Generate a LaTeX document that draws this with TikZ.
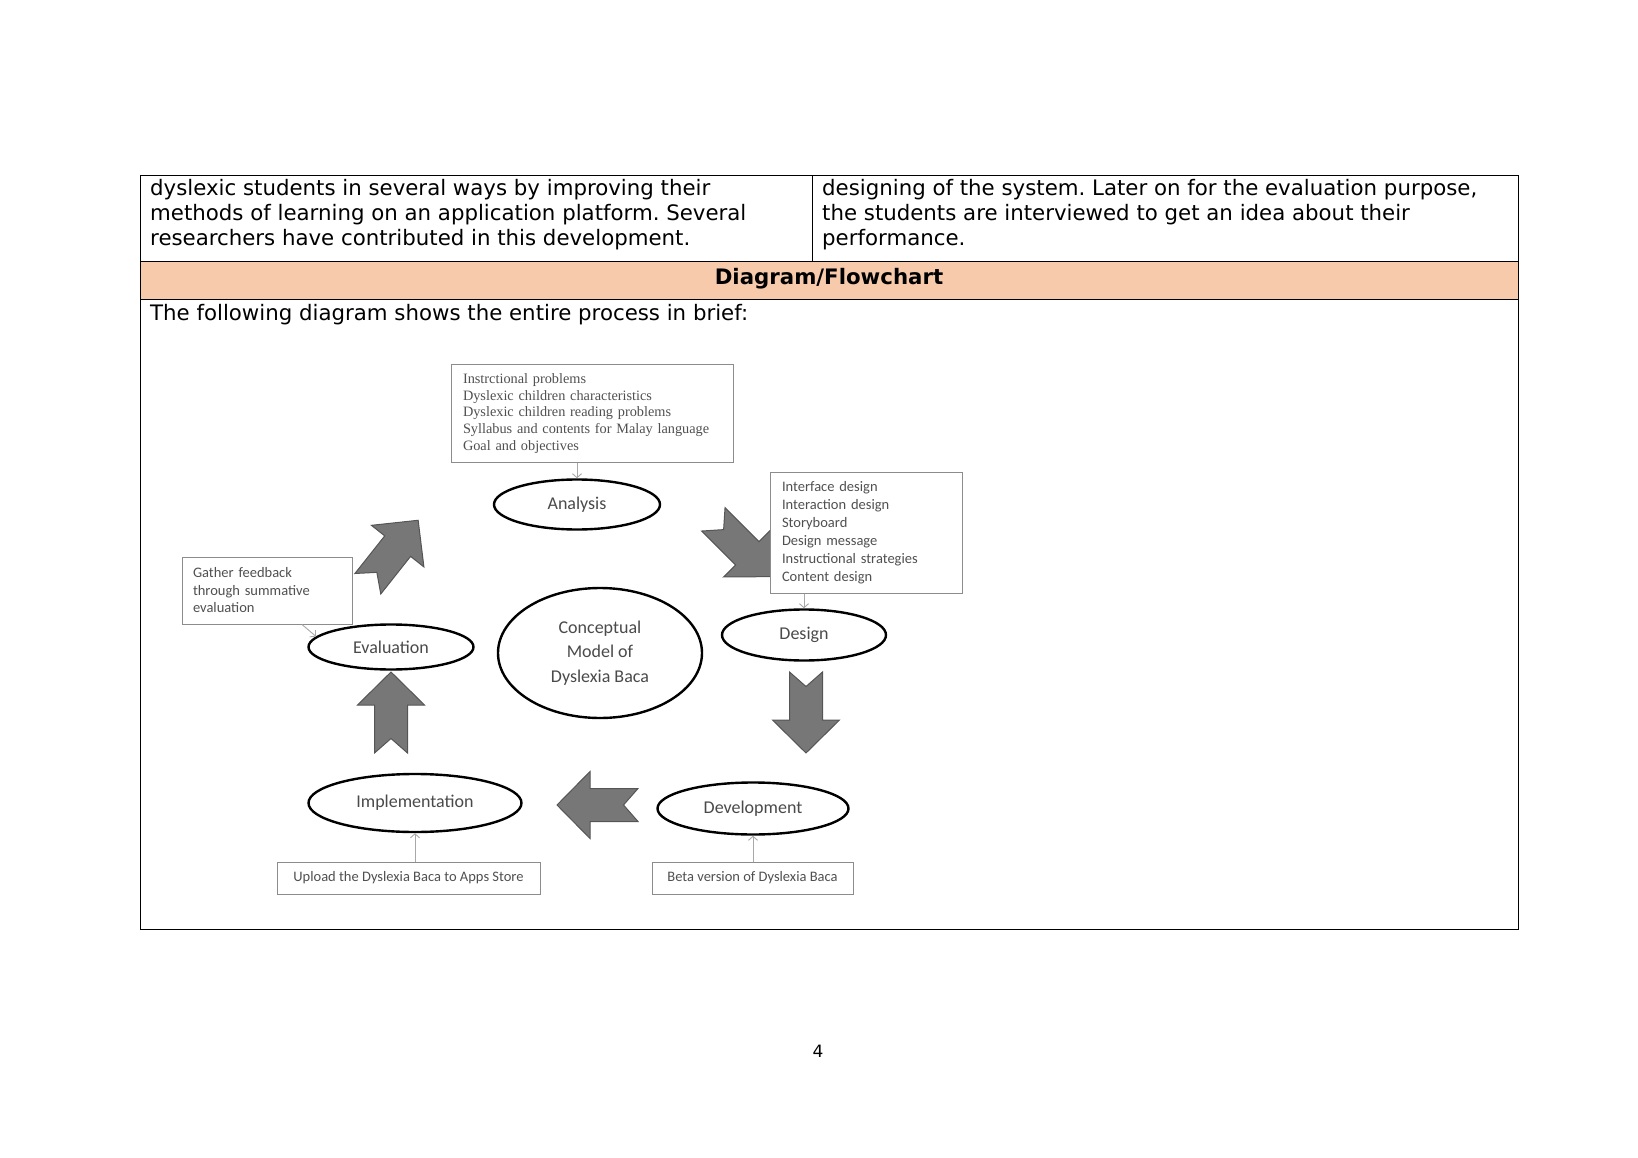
\documentclass[tikz,border=0pt]{standalone}
\usepackage{fontspec}
\setmainfont{DejaVu Sans}
\newfontfamily\calfont{Carlito}
\newfontfamily\timesfont{Liberation Serif}
\usetikzlibrary{shapes.geometric,arrows.meta}
\frenchspacing
\definecolor{hdr}{HTML}{F7CAAC}
\definecolor{arrowfill}{HTML}{777777}
\definecolor{arrowdraw}{HTML}{555555}
\definecolor{labgray}{HTML}{4A4A4A}
\definecolor{txtgray}{HTML}{505050}
\definecolor{boxgray}{HTML}{8C8C8C}
\definecolor{conngray}{HTML}{A8A8A8}
\newcommand\notcharrow[3]{%
  \draw[bigarrow, shift={(#1,#2)}, rotate=#3]
    (-40.5,-16.5) -- (7.5,-16.5) -- (7.5,-33.5) -- (40.5,0) -- (7.5,33.5)
    -- (7.5,16.5) -- (-40.5,16.5) -- (-26,0) -- cycle;}
\tikzset{
  body/.style={anchor=base west, inner sep=0pt, font=\fontsize{21.3}{25}\selectfont},
  bigarrow/.style={fill=arrowfill, draw=arrowdraw, line width=1pt, line join=miter},
  phase/.style={ellipse, draw=black, line width=2.4pt, fill=white, inner sep=0pt,
    text=labgray, align=center, font=\calfont\fontsize{18}{24.5}\selectfont},
  infobox/.style={rectangle, draw=boxgray, line width=1pt, fill=white, align=left, text=txtgray},
  conn/.style={draw=conngray, line width=0.9pt, -{Straight Barb[length=4pt,width=9pt]}},
}
\begin{document}
\begin{tikzpicture}[x=1pt,y=-1pt]
\useasboundingbox (0,0) rectangle (1638,1158);
% table
\fill[hdr] (140,262) rectangle (1518,300);
\draw[line width=1pt] (140,175.5) rectangle (1518,929);
\draw[line width=1pt] (140,262) -- (1518,262);
\draw[line width=1pt] (140,300) -- (1518,300);
\draw[line width=1pt] (812,175.5) -- (812,262);
\node[body] (l1) at (150,196) {dyslexic students in several ways by improving their};
\node[body] (l2) at (150,221) {methods of learning on an application platform. Several};
\node[body] (l3) at (150,246) {researchers have contributed in this development.};
\node[body] (r1) at (822,196) {designing of the system. Later on for the evaluation purpose,};
\node[body] (r2) at (822,221) {the students are interviewed to get an idea about their};
\node[body] (r3) at (822,246) {performance.};
\node[body, anchor=base, font=\bfseries\fontsize{21.3}{25}\selectfont] (hd) at (829,284) {Diagram/Flowchart};
\node[body] (intro) at (150,320.5) {The following diagram shows the entire process in brief:};
\node[anchor=base, inner sep=0pt, font=\fontsize{17}{20}\selectfont] (pg) at (818,1057) {4};

% big arrows
\notcharrow{393}{552}{51.6}
\notcharrow{742}{548}{-45}
\notcharrow{806}{712.5}{-90}
\notcharrow{597.5}{805}{180}
\notcharrow{391}{712.5}{90}

% boxes
\node[infobox, minimum width=282, minimum height=98, text width=258, inner xsep=12,
  font=\timesfont\fontsize{14.3}{16.6}\selectfont] (abox) at (592,413.5)
  {Instrctional problems\\Dyslexic children characteristics\\Dyslexic children reading problems\\Syllabus and contents for Malay language\\Goal and objectives};
\node[infobox, minimum width=192, minimum height=121, text width=168, inner xsep=12,
  font=\calfont\fontsize{14.5}{17.9}\selectfont] (dbox) at (866,532.5)
  {Interface design\\Interaction design\\Storyboard\\Design message\\Instructional strategies\\Content design};
\node[infobox, minimum width=170, minimum height=67, text width=148, inner xsep=11,
  font=\calfont\fontsize{14.5}{17.5}\selectfont] (gbox) at (267,590.5)
  {Gather feedback\\through summative\\evaluation};
\node[infobox, minimum width=263, minimum height=32, align=center, inner sep=0pt,
  font=\calfont\fontsize{14.5}{17}\selectfont] (ubox) at (408.5,878)
  {Upload the Dyslexia Baca to Apps Store};
\node[infobox, minimum width=201, minimum height=32, align=center, inner sep=0pt,
  font=\calfont\fontsize{14.5}{17}\selectfont] (bbox) at (752.5,878)
  {Beta version of Dyslexia Baca};

% ellipses
\node[phase, minimum width=166, minimum height=50] (ana) at (577,504.5) {Analysis};
\node[phase, minimum width=164, minimum height=51] (des) at (804,635) {Design};
\node[phase, minimum width=204, minimum height=130] (con) at (600,653) {Conceptual\\Model of\\Dyslexia Baca};
\node[phase, minimum width=165, minimum height=45] (eva) at (391,647) {Evaluation};
\node[phase, minimum width=213, minimum height=58] (imp) at (415,803) {Implementation};
\node[phase, minimum width=191, minimum height=52] (dev) at (753,808.5) {Development};

% connectors
\coordinate (gfoot) at ([xshift=35pt]gbox.south);
\draw[conn] (gfoot) -- (eva.172);
\draw[conn] (ana.north |- abox.south) -- (ana.north);
\draw[conn] (des.north |- dbox.south) -- (des.north);
\draw[conn] (imp.south |- ubox.north) -- (imp.south);
\draw[conn] (dev.south |- bbox.north) -- (dev.south);
\end{tikzpicture}
\end{document}
